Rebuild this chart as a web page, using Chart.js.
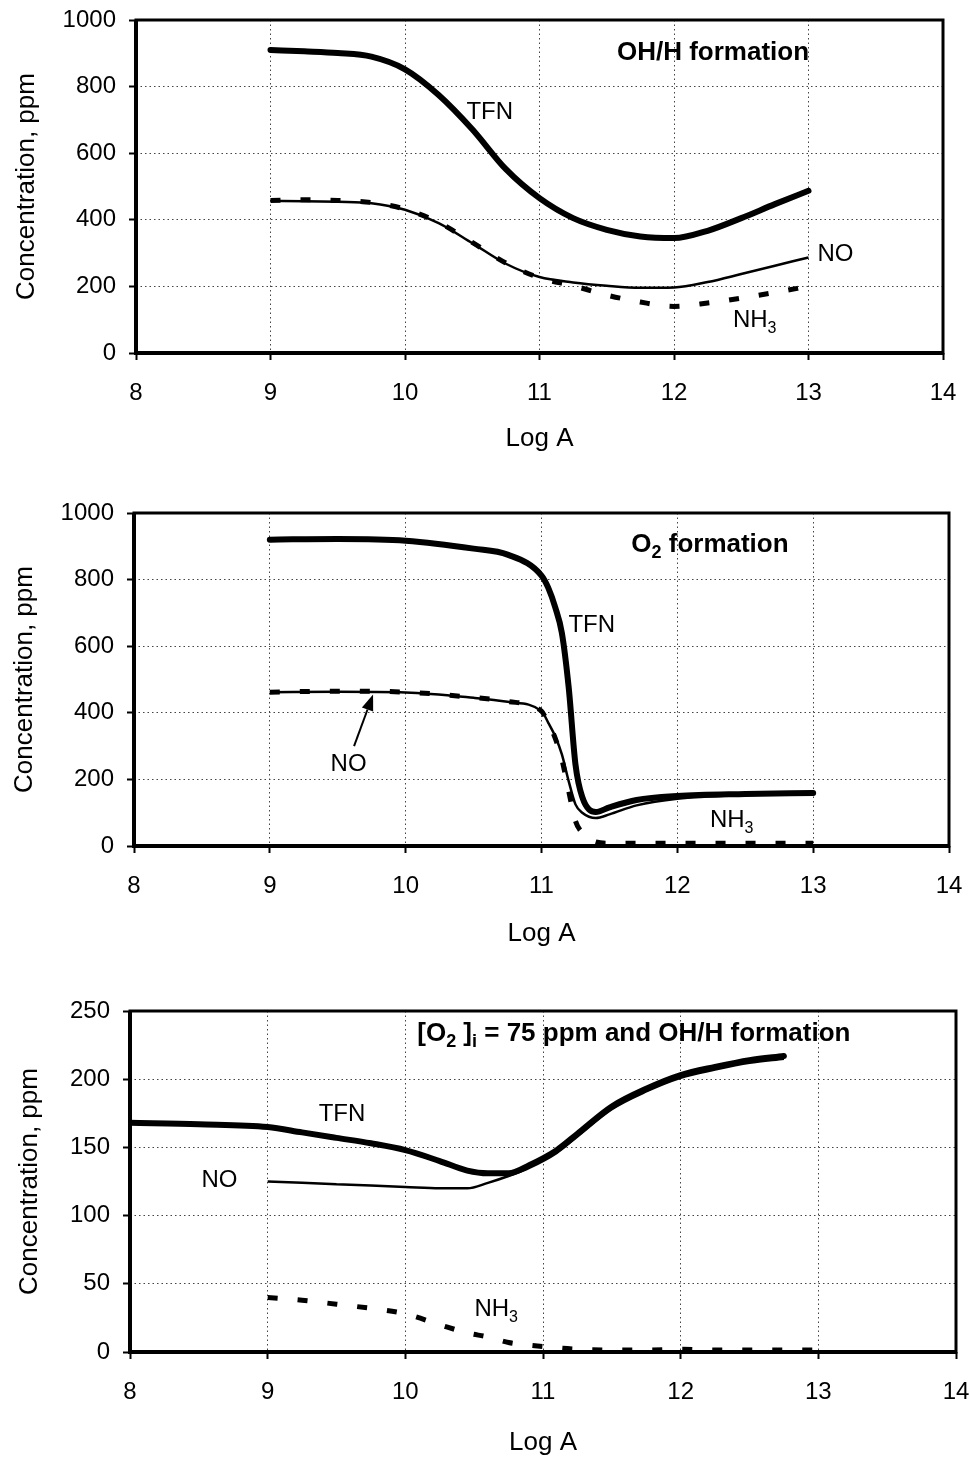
<!DOCTYPE html>
<html>
<head>
<meta charset="utf-8">
<script src="https://cdn.jsdelivr.net/npm/chart.js@4.4.1/dist/chart.umd.min.js"></script>
<style>
    html, body { margin: 0; padding: 0; background: #fff; }
    canvas { position: absolute; left: 0; }
</style>
</head>
<body>
<canvas id="c1" width="970" height="486" style="top:0px"></canvas>
<canvas id="c2" width="970" height="486" style="top:486px"></canvas>
<canvas id="c3" width="970" height="486" style="top:972px"></canvas>
<script>
// values: Log A on x, concentration (ppm) on y

const xMin = 8, xMax = 14, xStep = 1;

// top panel - OH/H formation
const logA1 = [9, 9.25, 9.5, 9.75, 10, 10.25, 10.5, 10.75, 11, 11.25, 11.5, 11.75, 12, 12.25, 12.5, 12.75, 13];
const tfn1  = [910, 906, 901, 890, 852, 775, 672, 552, 465, 405, 370, 350, 345, 367, 405, 447, 487];
const no1   = [457, 456, 454, 450, 430, 390, 330, 268, 228, 212, 202, 196, 197, 213, 237, 262, 287];
const nh3_1 = [458, 460, 458, 452, 432, 392, 332, 270, 226, 202, 174, 153, 140, 150, 165, 182, 200];

// middle panel - O2 formation
const logA2 = [9, 9.5, 10, 10.5, 10.75, 11, 11.05, 11.1, 11.15, 11.2, 11.25, 11.3, 11.4, 11.5, 11.7, 12, 12.5, 13];
const tfn2  = [920, 922, 917, 893, 875, 812, 775, 718, 640, 477, 245, 147, 102, 116, 138, 150, 156, 159];
const no2   = [462, 463, 461, 445, 433, 405, 370, 330, 275, 195, 125, 100, 84, 95, 122, 142, 153, 157];
const nh3_2 = [462, 465, 462, 446, 434, 405, 368, 325, 260, 165, 75, 40, 12, 8, 8, 8, 8, 8];

// bottom panel - [O2]i = 75 ppm and OH/H formation
const logA3 = [8, 8.5, 9, 9.25, 9.5, 9.75, 10, 10.25, 10.45, 10.6, 10.75, 10.9, 11.1, 11.25, 11.5, 11.75, 12, 12.25, 12.5, 12.75, 13];
const tfn3  = [168, 167, 165, 161, 157, 153, 148, 140, 133, 131, 131, 137, 148, 160, 180, 193, 203, 209, 214, 217, null];
const no3   = [null, null, 125, 124, 123, 122, 121, 120, 120, 124, 129, 135, 146, 158, 178, 191, 201, 207, 212, 215, null];
const nh3_3 = [null, null, 40, 38, 35, 32, 28, 20, 14, 11, 7, 5, 3, 2, 1.5, 1.5, 2, 1.5, 1.5, 1.5, 1.5];

const FONT = "'Liberation Sans', Arial, Helvetica, sans-serif";
Chart.defaults.font.family = FONT;
Chart.defaults.color = '#000';

function pts(xs, ys) {
    return xs.map((x, i) => ({ x: x, y: ys[i] })).filter(p => p.y !== null);
}

// text with subscripts: parts = [[text, isSub], ...], centred at (x, y)
function drawRich(ctx, parts, x, y, size, bold) {
    const w0 = bold ? 'bold ' : '';
    const main = w0 + size + 'px ' + FONT;
    const sub = w0 + Math.round(size * 0.68) + 'px ' + FONT;
    let w = 0;
    parts.forEach(p => { ctx.font = p[1] ? sub : main; w += ctx.measureText(p[0]).width; });
    let cx = x - w / 2;
    ctx.textAlign = 'left';
    ctx.textBaseline = 'middle';
    parts.forEach(p => {
        ctx.font = p[1] ? sub : main;
        ctx.fillText(p[0], cx, p[1] ? y + size * 0.32 : y);
        cx += ctx.measureText(p[0]).width;
    });
}

const figPlugin = {
    id: 'fig',
    beforeDatasetsDraw(chart) {
        const { ctx, chartArea: a } = chart;
        ctx.save();
        ctx.strokeStyle = '#000';
        ctx.lineWidth = 3;
        ctx.strokeRect(a.left, a.top, a.right - a.left, a.bottom - a.top);
        ctx.lineWidth = 4;
        ctx.beginPath();
        ctx.moveTo(a.left, a.top);
        ctx.lineTo(a.left, a.bottom);
        ctx.lineTo(a.right, a.bottom);
        ctx.stroke();
        ctx.restore();
    },
    afterDraw(chart, args, opts) {
        const { ctx } = chart;
        const sx = chart.scales.x, sy = chart.scales.y;
        ctx.save();
        ctx.fillStyle = '#000';
        (opts.labels || []).forEach(l => {
            drawRich(ctx, l.parts, sx.getPixelForValue(l.x), sy.getPixelForValue(l.y), l.size || 24, l.bold);
        });
        if (opts.arrow) {
            const ar = opts.arrow;
            const x1 = sx.getPixelForValue(ar.from[0]), y1 = sy.getPixelForValue(ar.from[1]);
            const x2 = sx.getPixelForValue(ar.to[0]), y2 = sy.getPixelForValue(ar.to[1]);
            const ang = Math.atan2(y2 - y1, x2 - x1);
            const hl = 16, hw = 6;
            ctx.strokeStyle = '#000';
            ctx.lineWidth = 2;
            ctx.beginPath();
            ctx.moveTo(x1, y1);
            ctx.lineTo(x2 - Math.cos(ang) * hl, y2 - Math.sin(ang) * hl);
            ctx.stroke();
            ctx.beginPath();
            ctx.moveTo(x2, y2);
            ctx.lineTo(x2 - Math.cos(ang) * hl - Math.sin(ang) * hw, y2 - Math.sin(ang) * hl + Math.cos(ang) * hw);
            ctx.lineTo(x2 - Math.cos(ang) * hl + Math.sin(ang) * hw, y2 - Math.sin(ang) * hl - Math.cos(ang) * hw);
            ctx.closePath();
            ctx.fill();
        }
        ctx.restore();
    }
};

function series(xs, tfn, no, nh3) {
    return [
        {
            label: 'NH3', data: pts(xs, nh3), borderColor: '#000', borderWidth: 5,
            borderDash: [10, 20], borderCapStyle: 'butt'
        },
        { label: 'NO', data: pts(xs, no), borderColor: '#000', borderWidth: 2.5 },
        { label: 'TFN', data: pts(xs, tfn), borderColor: '#000', borderWidth: 6, borderCapStyle: 'round' }
    ];
}

function makePanel(id, p) {
    const H = 486;
    new Chart(document.getElementById(id).getContext('2d'), {
        type: 'line',
        data: { datasets: p.datasets },
        options: {
            responsive: false,
            animation: false,
            devicePixelRatio: 1,
            layout: { padding: { left: 0, top: p.area.top, right: 970 - p.area.right, bottom: 0 } },
            elements: {
                point: { radius: 0 },
                line: { cubicInterpolationMode: 'monotone', fill: false }
            },
            plugins: {
                legend: { display: false },
                tooltip: { enabled: false },
                fig: { labels: p.labels, arrow: p.arrow }
            },
            scales: {
                x: {
                    type: 'linear', min: xMin, max: xMax,
                    ticks: { stepSize: xStep, padding: 19, font: { size: 24 }, color: '#000', callback: v => String(v) },
                    grid: { color: '#444', lineWidth: 1, tickLength: 7, tickColor: '#000', tickWidth: 2, tickBorderDash: [] },
                    border: { display: false, dash: [1.5, 3] },
                    title: { display: true, text: 'Log A', font: { size: 26 }, color: '#000', padding: { top: 0, bottom: p.xTitlePad } },
                    afterFit: s => { s.height = H - p.area.bottom; s.paddingLeft = 0; s.paddingRight = 0; }
                },
                y: {
                    min: 0, max: p.yMax,
                    ticks: { stepSize: p.yStep, padding: 13, font: { size: 24 }, color: '#000', callback: v => String(v) },
                    grid: { color: '#444', lineWidth: 1, tickLength: 7, tickColor: '#000', tickWidth: 2, tickBorderDash: [] },
                    border: { display: false, dash: [1.5, 3] },
                    title: { display: true, text: 'Concentration, ppm', font: { size: 26 }, color: '#000', padding: { top: p.yTitlePad, bottom: 0 } },
                    afterFit: s => { s.width = p.area.left; s.paddingTop = 0; s.paddingBottom = 0; }
                }
            }
        },
        plugins: [figPlugin]
    });
}

makePanel('c1', {
    area: { left: 136, right: 943, top: 20, bottom: 353 },
    yMax: 1000, yStep: 200, xTitlePad: 32, yTitlePad: 11,
    datasets: series(logA1, tfn1, no1, nh3_1),
    labels: [
        { parts: [['OH/H formation', false]], x: 12.29, y: 900, bold: true, size: 26 },
        { parts: [['TFN', false]], x: 10.63, y: 724 },
        { parts: [['NO', false]], x: 13.2, y: 297 },
        { parts: [['NH', false], ['3', true]], x: 12.6, y: 97 }
    ]
});

makePanel('c2', {
    area: { left: 134, right: 949, top: 27, bottom: 360 },
    yMax: 1000, yStep: 200, xTitlePad: 23, yTitlePad: 9,
    datasets: series(logA2, tfn2, no2, nh3_2),
    labels: [
        { parts: [['O', false], ['2', true], [' formation', false]], x: 12.24, y: 904, bold: true, size: 26 },
        { parts: [['TFN', false]], x: 11.37, y: 663 },
        { parts: [['NO', false]], x: 9.58, y: 246 },
        { parts: [['NH', false], ['3', true]], x: 12.4, y: 76 }
    ],
    arrow: { from: [9.62, 300], to: [9.76, 455] }
});

makePanel('c3', {
    area: { left: 130, right: 956, top: 39, bottom: 380 },
    yMax: 250, yStep: 50, xTitlePad: 0, yTitlePad: 14,
    datasets: series(logA3, tfn3, no3, nh3_3),
    labels: [
        { parts: [['[O', false], ['2', true], [' ]', false], ['i', true], [' = 75 ppm and OH/H formation', false]], x: 11.66, y: 233, bold: true, size: 26 },
        { parts: [['TFN', false]], x: 9.54, y: 174 },
        { parts: [['NO', false]], x: 8.65, y: 126 },
        { parts: [['NH', false], ['3', true]], x: 10.66, y: 31 }
    ]
});
</script>
</body>
</html>
